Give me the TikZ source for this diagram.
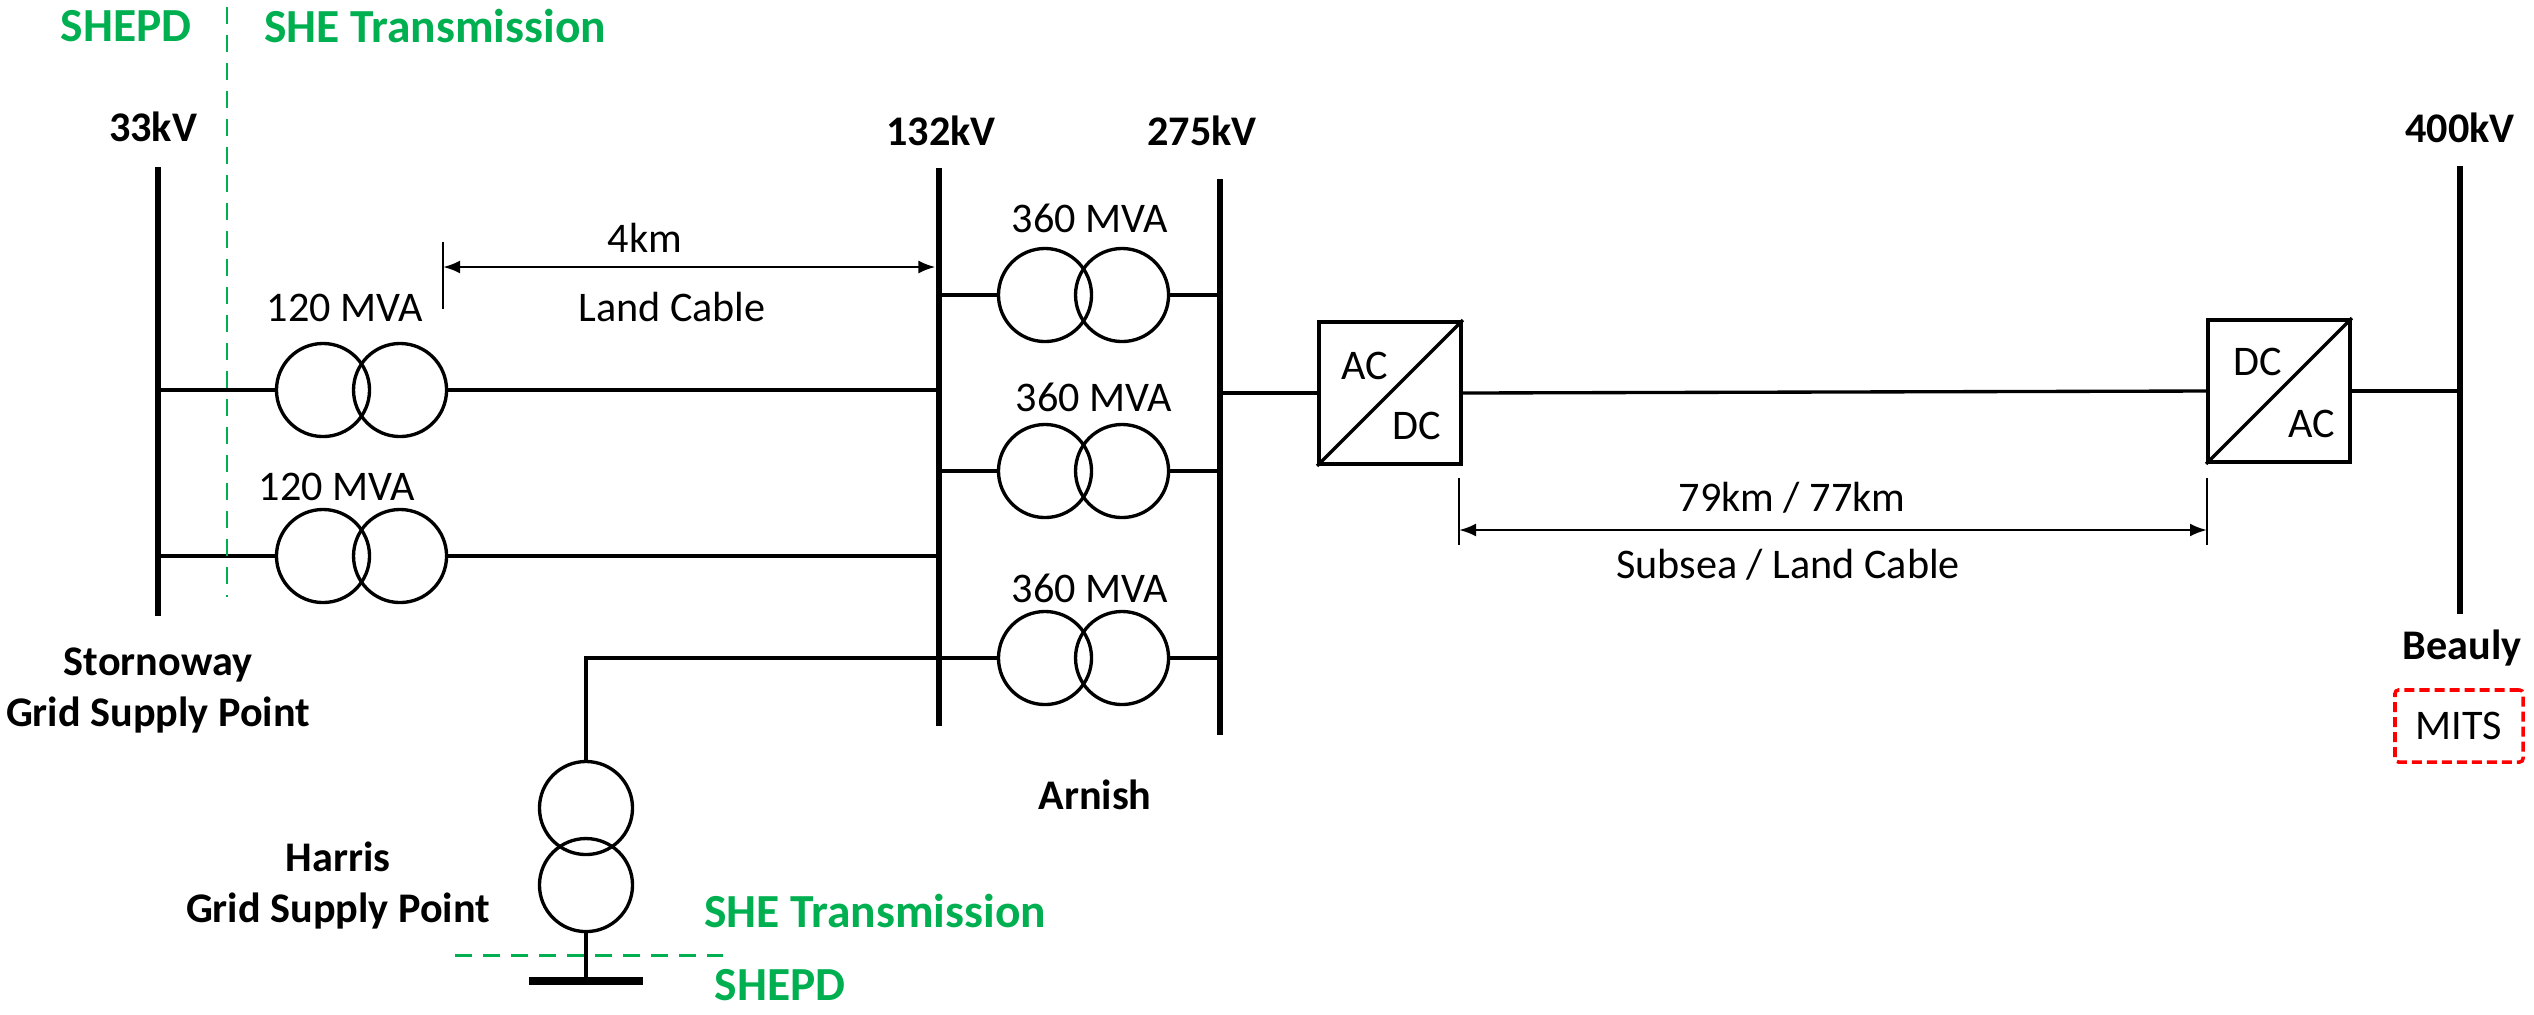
\documentclass[tikz,border=0pt]{standalone}
\usepackage{fontspec}
\setmainfont{Carlito}
\usepackage{tikz}
\usetikzlibrary{positioning, arrows.meta}

\definecolor{shegreen}{RGB}{0,176,80}

\begin{document}
\begin{tikzpicture}[x=0.01cm, y=-0.01cm, node distance=0.77cm, on grid,
    font=\fontsize{12}{14.5}\selectfont,
    >={Latex[length=0.17cm,width=0.13cm]},
    bus/.style={line width=1.7pt},
    wire/.style={line width=0.95pt},
    coil/.style={circle, draw, line width=0.95pt, minimum size=0.93cm, inner sep=0pt},
    conv/.style={rectangle, draw, line width=1.1pt, minimum size=1.42cm, inner sep=0pt},
    volt/.style={font=\fontsize{12}{14.5}\selectfont\bfseries},
    sitelabel/.style={font=\fontsize{12}{14.5}\selectfont\bfseries, align=center},
    zone/.style={text=shegreen, inner sep=1pt, font=\fontsize{13.5}{16}\selectfont\bfseries},
    zoneline/.style={draw=shegreen, line width=0.85pt, dash pattern=on 0.17cm off 0.11cm},
    dim/.style={<->, line width=0.75pt, shorten >=1pt},
    dimtick/.style={line width=0.35pt}]
    \useasboundingbox (0,0) rectangle (2534,1014);

    % busbars
    \coordinate (b33t) at (158,167);   \coordinate (b33b) at (158,616);
    \coordinate (b132t) at (939,168);  \coordinate (b132b) at (939,726);
    \coordinate (b275t) at (1220,179); \coordinate (b275b) at (1220,735);
    \coordinate (b400t) at (2460,166); \coordinate (b400b) at (2460,614);
    \draw[bus] (b33t) -- (b33b);
    \draw[bus] (b132t) -- (b132b);
    \draw[bus] (b275t) -- (b275b);
    \draw[bus] (b400t) -- (b400b);
    \node[volt] (v33) at (153,127) {33kV};
    \node[volt] (v132) at (941,131) {132kV};
    \node[volt] (v275) at (1202,131) {275kV};
    \node[volt] (v400) at (2460,128) {400kV};

    % transformers
    \node[coil] (t1a) at (323,390) {};
    \node[coil] (t1b) [right=of t1a] {};
    \node[coil] (t2a) at (323,556) {};
    \node[coil] (t2b) [right=of t2a] {};
    \node[coil] (t3a) at (1045,295) {};
    \node[coil] (t3b) [right=of t3a] {};
    \node[coil] (t4a) at (1045,471) {};
    \node[coil] (t4b) [right=of t4a] {};
    \node[coil] (t5a) at (1045,658) {};
    \node[coil] (t5b) [right=of t5a] {};
    \node[coil] (hA) at (586,808) {};
    \node[coil] (hB) [below=of hA] {};
    \node (r1) at (345,308) {120 MVA};
    \node (r2) at (337,487) {120 MVA};
    \node (r3) at (1090,218) {360 MVA};
    \node (r4) at (1094,397) {360 MVA};
    \node (r5) at (1090,588) {360 MVA};

    \draw[wire] (t1a.west -| b33t) -- (t1a.west);
    \draw[wire] (t1b.east) -- (t1b.east -| b132t);
    \draw[wire] (t2a.west -| b33t) -- (t2a.west);
    \draw[wire] (t2b.east) -- (t2b.east -| b132t);
    \draw[wire] (t3a.west -| b132t) -- (t3a.west);
    \draw[wire] (t3b.east) -- (t3b.east -| b275t);
    \draw[wire] (t4a.west -| b132t) -- (t4a.west);
    \draw[wire] (t4b.east) -- (t4b.east -| b275t);
    \draw[wire] (t5a.west -| b132t) -- (t5a.west);
    \draw[wire] (t5b.east) -- (t5b.east -| b275t);
    \draw[wire] (hA.north) |- (t5a.west -| b132t);

    % Harris bar
    \coordinate (hbl) at (529,981);
    \coordinate (hbr) at (643,981);
    \draw[wire] (hB.south) -- (hB.south |- hbl);
    \draw[line width=2.3pt] (hbl) -- (hbr);

    % converters
    \node[conv] (c1) at (1390,393) {};
    \node[conv] (c2) at (2279,391) {};
    \draw[wire] (c1.south west) -- (c1.north east);
    \draw[wire] (c2.south west) -- (c2.north east);
    \node (c1ac) at (1365,366) {AC};
    \node (c1dc) at (1417,426) {DC};
    \node (c2dc) at (2258,362) {DC};
    \node (c2ac) at (2312,424) {AC};
    \draw[wire] (c1.west -| b275t) -- (c1.west);
    \draw[wire] (c1.east) -- (c2.west);
    \draw[wire] (c2.east) -- (c2.east -| b400t);

    % cable lengths
    \coordinate (k1t) at (443,242); \coordinate (k1b) at (443,309);
    \coordinate (k1) at (443,267);
    \draw[dimtick] (k1t) -- (k1b);
    \draw[dim] (k1) -- (k1 -| b132t);
    \node (l1a) at (645,238) {4km};
    \node (l1b) at (672,307) {Land Cable};
    \coordinate (k2t) at (1459,478); \coordinate (k2b) at (1459,545);
    \coordinate (k3t) at (2207,478); \coordinate (k3b) at (2207,545);
    \draw[dimtick] (k2t) -- (k2b);
    \draw[dimtick] (k3t) -- (k3b);
    \draw[dim, shorten >=0pt] (k2t |- 0,530) -- (k3t |- 0,530);
    \node (l2a) at (1792,498) {79km / 77km};
    \node (l2b) at (1788,565) {Subsea / Land Cable};

    % sites
    \node[sitelabel] (storn) at (158,690) {Stornoway\\Grid Supply Point};
    \node[sitelabel] (harris) at (338,885) {Harris\\Grid Supply Point};
    \node[sitelabel] (arnish) at (1095,795) {Arnish};
    \node[sitelabel] (beauly) at (2462,648) {Beauly};
    \node[draw=red, line width=1pt, dash pattern=on 0.1cm off 0.05cm, rounded corners=1pt,
          minimum width=1.28cm, minimum height=0.72cm] (mits) at (2459,726) {MITS};

    % ownership boundaries
    \coordinate (z1t) at (227,7);   \coordinate (z1b) at (227,597);
    \coordinate (z2l) at (455,955); \coordinate (z2r) at (723,955);
    \draw[zoneline] (z1t) -- (z1b);
    \draw[zoneline] (z2l) -- (z2r);
    \node[zone] (pd1) at (126,26) {SHEPD};
    \node[zone] (tr1) at (435,26) {SHE Transmission};
    \node[zone] (tr2) at (875,911) {SHE Transmission};
    \node[zone] (pd2) at (780,985) {SHEPD};
\end{tikzpicture}
\end{document}
